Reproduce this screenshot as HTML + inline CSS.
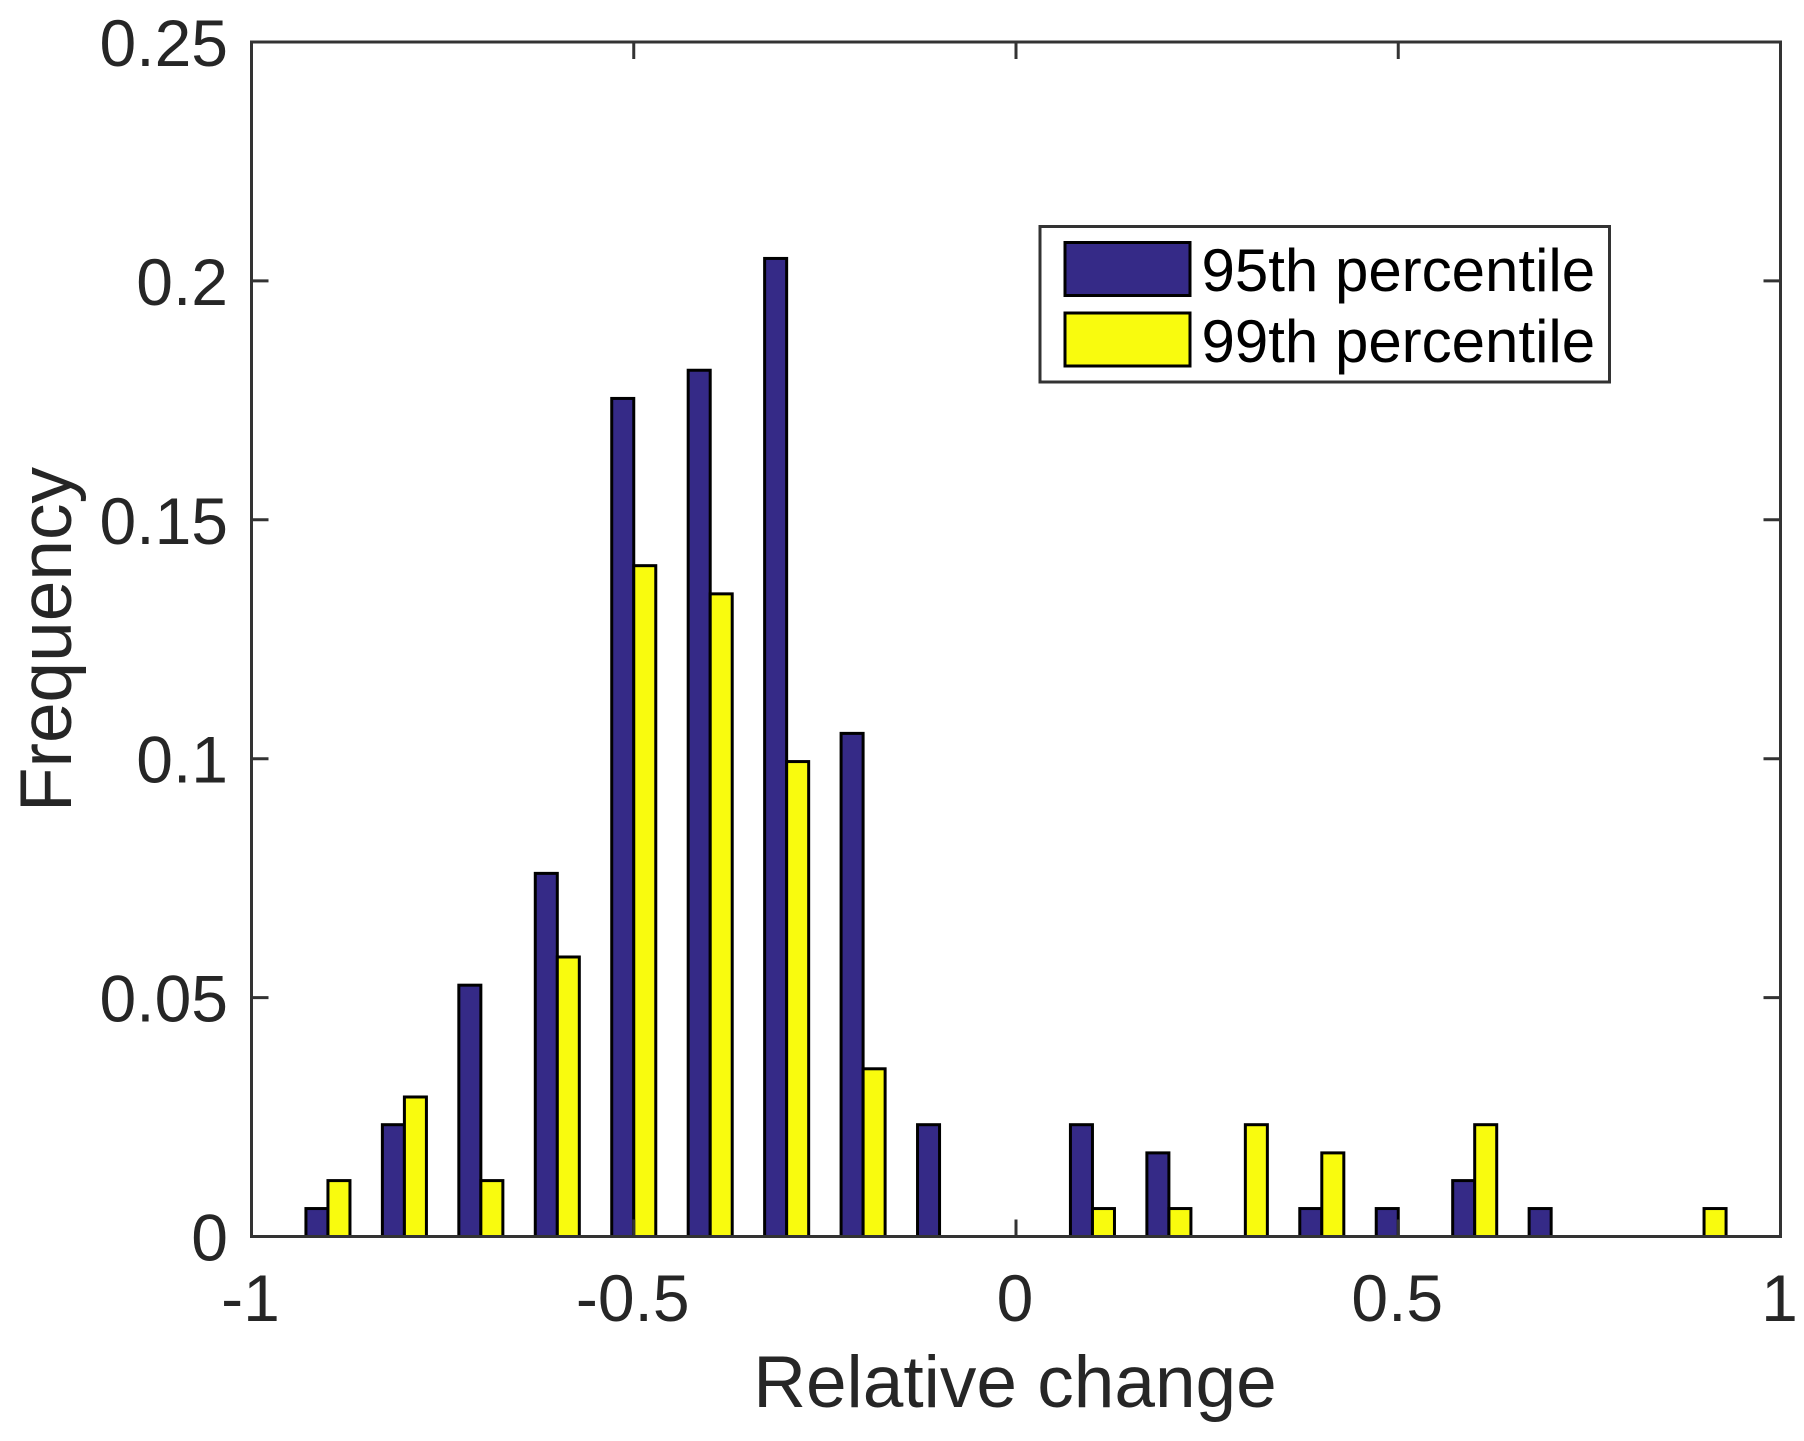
<!DOCTYPE html>
<html lang="en">
<head>
<meta charset="utf-8">
<title>Relative change histogram</title>
<style>
html,body{margin:0;padding:0;background:#fff;}
svg{display:block;}
text{font-family:"Liberation Sans",Arial,sans-serif;}
</style>
</head>
<body>
<svg id="chart" xmlns="http://www.w3.org/2000/svg" width="1804" height="1441" viewBox="0 0 1804 1441">
  <rect x="0" y="0" width="1804" height="1441" fill="#ffffff"></rect>
  <g id="bars"></g>
  <rect x="251.5" y="42" width="1529" height="1194.5" fill="none" stroke="#333333" stroke-width="3"></rect>
  <g id="ticks"></g>
  <g id="tick-labels"></g>
  <text x="1015" y="1407" text-anchor="middle" font-size="73" fill="#262626">Relative change</text>
  <text transform="translate(71,639.5) rotate(-90)" text-anchor="middle" font-size="73" fill="#262626">Frequency</text>
  <g>
    <rect x="1040" y="226.5" width="569.5" height="155.5" fill="#ffffff" stroke="#333333" stroke-width="3"></rect>
    <rect x="1065" y="242.5" width="125" height="53" fill="#352a87" stroke="#000000" stroke-width="3"></rect>
    <text x="1201.5" y="291" font-size="60" fill="#000000">95th percentile</text>
    <rect x="1065" y="313" width="125" height="53" fill="#f9fb0e" stroke="#000000" stroke-width="3"></rect>
    <text x="1201.5" y="362" font-size="60" fill="#000000">99th percentile</text>
  </g>
</svg>
<script>
var binCenters = [-0.9, -0.8, -0.7, -0.6, -0.5, -0.4, -0.3, -0.2, -0.1, 0, 0.1, 0.2, 0.3, 0.4, 0.5, 0.6, 0.7, 0.8, 0.9];
var series95th = [0.00585, 0.0234, 0.0526, 0.076, 0.1754, 0.1813, 0.2047, 0.1053, 0.0234, 0, 0.0234, 0.0175, 0, 0.00585, 0.00585, 0.0117, 0.00585, 0, 0];
var series99th = [0.0117, 0.0292, 0.0117, 0.0585, 0.1404, 0.1345, 0.0994, 0.0351, 0, 0, 0.00585, 0.00585, 0.0234, 0.0175, 0, 0.0234, 0, 0, 0.00585];
var xTickValues = [-1, -0.5, 0, 0.5, 1];
var xTickLabels = ["-1", "-0.5", "0", "0.5", "1"];
var yTickValues = [0, 0.05, 0.1, 0.15, 0.2, 0.25];
var yTickLabels = ["0", "0.05", "0.1", "0.15", "0.2", "0.25"];

var NS = "http://www.w3.org/2000/svg";
var plotLeft = 251.5, plotRight = 1780.5, plotTop = 42, plotBottom = 1236.5;
var xMin = -1, xMax = 1, yMin = 0, yMax = 0.25;
var barUnitWidth = 0.0288;
var tickLength = 17;

function xScale(v) { return plotLeft + (v - xMin) / (xMax - xMin) * (plotRight - plotLeft); }
function yScale(v) { return plotBottom - (v - yMin) / (yMax - yMin) * (plotBottom - plotTop); }

var barsGroup = document.getElementById("bars");
var ticksGroup = document.getElementById("ticks");
var labelsGroup = document.getElementById("tick-labels");

function drawBar(center, offsetUnits, value, fill, name) {
  var left = xScale(center + offsetUnits);
  var right = xScale(center + offsetUnits + barUnitWidth);
  var top = yScale(value);
  var r = document.createElementNS(NS, "rect");
  r.setAttribute("x", left);
  r.setAttribute("y", top);
  r.setAttribute("width", right - left);
  r.setAttribute("height", plotBottom - top);
  r.setAttribute("fill", fill);
  r.setAttribute("stroke", "#000000");
  r.setAttribute("stroke-width", "3");
  
  
  barsGroup.appendChild(r);
}

binCenters.forEach(function (c, i) {
  drawBar(c, -barUnitWidth, series95th[i], "#352a87", "bar-95th");
});
binCenters.forEach(function (c, i) {
  drawBar(c, 0, series99th[i], "#f9fb0e", "bar-99th");
});

function drawTick(x1, y1, x2, y2) {
  var l = document.createElementNS(NS, "line");
  l.setAttribute("x1", x1);
  l.setAttribute("y1", y1);
  l.setAttribute("x2", x2);
  l.setAttribute("y2", y2);
  l.setAttribute("stroke", "#333333");
  l.setAttribute("stroke-width", "3");
  
  
  ticksGroup.appendChild(l);
}

function drawLabel(x, y, anchor, str, name) {
  var t = document.createElementNS(NS, "text");
  t.setAttribute("x", x);
  t.setAttribute("y", y);
  t.setAttribute("text-anchor", anchor);
  t.setAttribute("font-size", "66");
  t.setAttribute("fill", "#262626");
  
  
  t.textContent = str;
  labelsGroup.appendChild(t);
}

xTickValues.forEach(function (v, i) {
  var x = xScale(v);
  drawTick(x, plotBottom, x, plotBottom - tickLength);
  drawTick(x, plotTop, x, plotTop + tickLength);
  drawLabel(x - 1, 1321, "middle", xTickLabels[i], "x-tick-label");
});

yTickValues.forEach(function (v, i) {
  var y = yScale(v);
  drawTick(plotLeft, y, plotLeft + tickLength, y);
  drawTick(plotRight, y, plotRight - tickLength, y);
  drawLabel(228, y + 24, "end", yTickLabels[i], "y-tick-label");
});
</script>
</body>
</html>
